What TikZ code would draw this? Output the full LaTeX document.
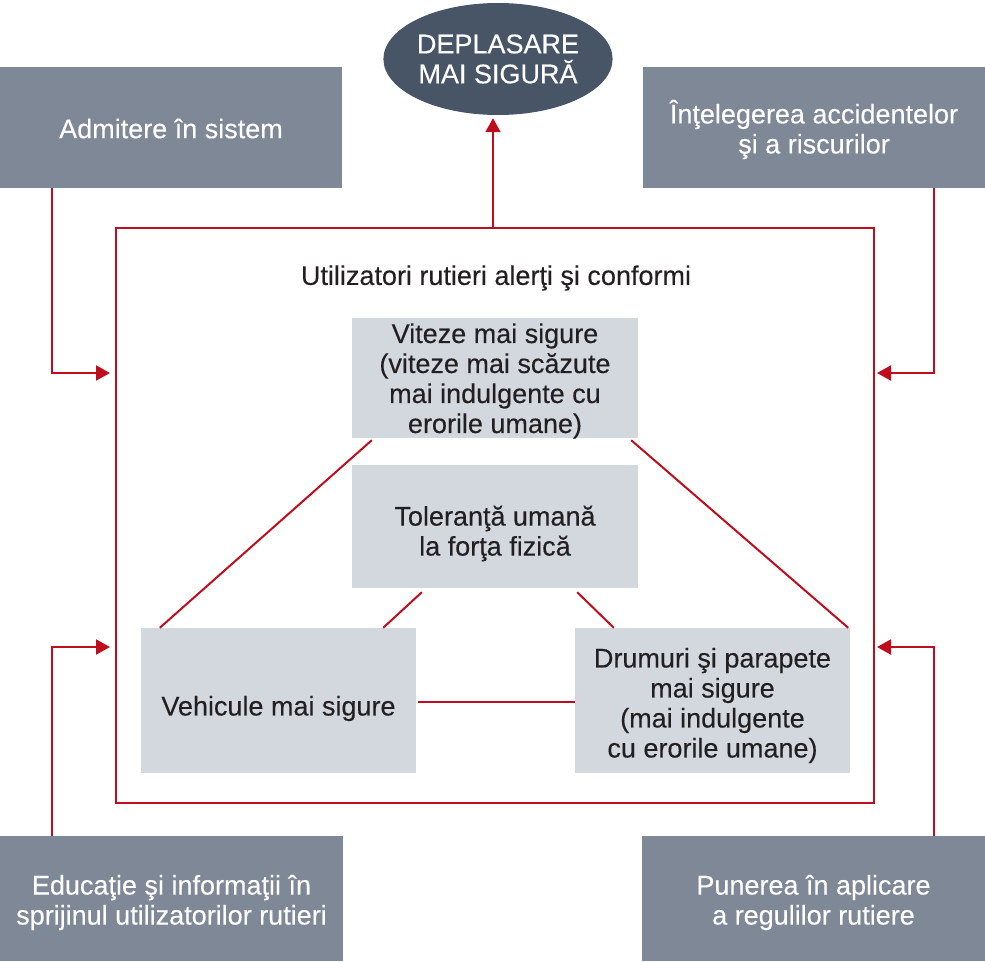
\documentclass[tikz,border=0pt]{standalone}
\usepackage{fontspec}
\setmainfont{Liberation Sans}[FakeBold=0.6]
\usetikzlibrary{shapes.geometric,arrows.meta,calc}
\definecolor{darkbox}{RGB}{127,136,150}
\definecolor{ellc}{RGB}{71,85,102}
\definecolor{lightbox}{RGB}{211,216,222}
\definecolor{redl}{RGB}{192,13,30}
\definecolor{txt}{RGB}{35,31,32}
\newcommand\fsz{\fontsize{27}{30}\selectfont\addfontfeature{FakeBold=0.25}}
\begin{document}
\begin{tikzpicture}[x=1pt,y=-1pt,
  darkb/.style={rectangle,fill=darkbox,inner sep=0pt},
  lightb/.style={rectangle,fill=lightbox,inner sep=0pt},
  wtxt/.style={text=white,inner sep=0pt,align=center,font=\fsz},
  btxt/.style={text=txt,inner sep=0pt,align=center,font=\fsz},
  arr/.style={draw=redl,line width=2pt,-{Triangle[length=14pt,width=15pt]}},
  redline/.style={draw=redl,line width=2pt},
]
\useasboundingbox (0,0) rectangle (985,961);

\node[darkb,minimum width=342pt,minimum height=121pt] (tl) at (171,127.5) {};
\node[darkb,minimum width=342pt,minimum height=121pt] (tr) at (814,127.5) {};
\node[darkb,minimum width=343pt,minimum height=125pt] (bl) at (171.5,898.5) {};
\node[darkb,minimum width=343pt,minimum height=125pt] (br) at (813.5,898.5) {};
\node[wtxt] (tlt) at ($(tl)+(0,1)$) {Admitere în sistem};
\node[wtxt] (trt) at ($(tr)+(0,2)$) {Înţelegerea accidentelor\\şi a riscurilor};
\node[wtxt] (blt) at ($(bl)+(0,4)$) {Educaţie şi informaţii în\\sprijinul utilizatorilor rutieri};
\node[wtxt] (brt) at ($(br)+(0,4)$) {Punerea în aplicare\\a regulilor rutiere};

\node[ellipse,fill=ellc,text=white,inner sep=0pt,minimum width=209pt,minimum height=112pt,align=center,font=\fsz] (ell) at (498,59) {DEPLASARE\\MAI SIGURĂ};

\node[rectangle,draw=redl,line width=2pt,minimum width=758pt,minimum height=575pt,inner sep=0pt] (frame) at (495,515.5) {};
\node[btxt] (title) at (496,278) {Utilizatori rutieri alerţi şi conformi};

\node[lightb,minimum width=286pt,minimum height=120pt] (vt) at (495,378) {};
\node[lightb,minimum width=286pt,minimum height=123pt] (vm) at (495,526.5) {};
\node[lightb,minimum width=275pt,minimum height=145pt] (vl) at (278.5,700.5) {};
\node[lightb,minimum width=275pt,minimum height=145pt] (vr) at (712.5,700.5) {};
\node[btxt] (vtt) at ($(vt)+(0,3)$) {Viteze mai sigure\\(viteze mai scăzute\\mai indulgente cu\\erorile umane)};
\node[btxt] (vmt) at ($(vm)+(0,7)$) {Toleranţă umană\\la forţa fizică};
\node[btxt] (vlt) at ($(vl)+(0,8)$) {Vehicule mai sigure};
\node[btxt] (vrt) at ($(vr)+(0,5)$) {Drumuri şi parapete\\mai sigure\\(mai indulgente\\cu erorile umane)};

\coordinate (yA) at (0,373);
\coordinate (yB) at (0,647);
\coordinate (yC) at (0,702);
\coordinate (xE) at (493,0);

\draw[arr,shorten >=5pt] ($(tl.south west)+(52,0)$) |- (frame.west |- yA);
\draw[arr,shorten >=5pt] ($(bl.north west)+(52,0)$) |- (frame.west |- yB);
\draw[arr,shorten >=2pt] ($(tr.south west)+(291,0)$) |- (frame.east |- yA);
\draw[arr,shorten >=2pt] ($(br.north west)+(292,0)$) |- (frame.east |- yB);
\draw[arr,shorten >=3pt] (frame.north -| xE) -- (ell.south -| xE);

\draw[redline] ($(vt.south west)+(20,2)$) -- ($(vl.north west)+(19,0)$);
\draw[redline] ($(vt.south east)+(-7,2)$) -- ($(vr.north east)+(-2,0)$);
\draw[redline] ($(vm.south west)+(70,4)$) -- ($(vl.north east)+(-33,0)$);
\draw[redline] ($(vm.south east)+(-61,4)$) -- ($(vr.north west)+(39,0)$);
\draw[redline,shorten <=2pt] (vl.east |- yC) -- (vr.west |- yC);
\end{tikzpicture}
\end{document}
